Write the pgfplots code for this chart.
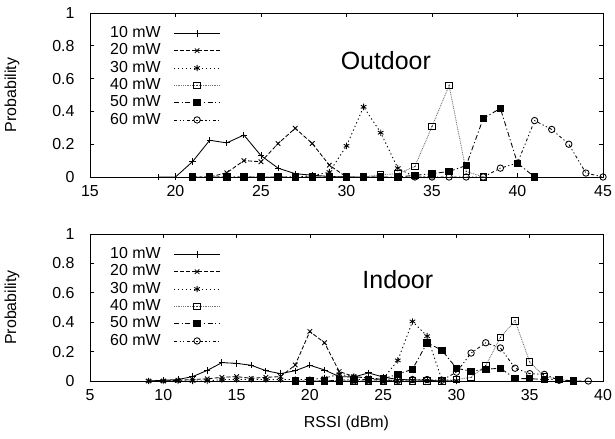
\documentclass[border=0pt]{standalone}
\usepackage{fontspec}
\setmainfont{Liberation Sans}
\usepackage{pgfplots}
\pgfplotsset{compat=1.18}

\newcommand{\gpfont}{\fontsize{16}{18}\selectfont}

% open square with a dot in the middle (gnuplot pt 4 look)
\pgfdeclareplotmark{sqdot}{%
  \pgfpathrectangle{\pgfqpoint{-\pgfplotmarksize}{-\pgfplotmarksize}}{\pgfqpoint{2\pgfplotmarksize}{2\pgfplotmarksize}}%
  \pgfusepathqstroke
  \pgfpathcircle{\pgfpointorigin}{0.6bp}\pgfusepathqfill}

\pgfplotscreateplotcyclelist{gp}{
  {black, solid, mark=+, mark options={solid}},
  {black, dash pattern=on 4bp off 2bp, mark=x, mark options={solid}},
  {black, dash pattern=on 1.3bp off 2.7bp, mark=asterisk, mark options={solid}},
  {black!55, dash pattern=on 0.9bp off 0.9bp, mark=sqdot, mark options={solid,black}},
  {black, dash pattern=on 5bp off 2.5bp on 1.2bp off 2.5bp, mark=square*, mark options={solid}},
  {black, dash pattern=on 3bp off 2.5bp on 1.2bp off 2.5bp on 1.2bp off 2.5bp, mark=o, mark options={solid}},
}

\pgfplotsset{
  gpaxis/.style={
    scale only axis,
    width=513bp,
    ymin=0, ymax=1,
    ytick={0,0.2,...,1},
    tick align=inside,
    xtick pos=both, ytick pos=both,
    major tick length=4bp,
    axis line style={line width=0.8bp},
    every tick/.style={black, line width=0.6bp},
    /pgf/number format/assume math mode=true,
    tick label style={font=\gpfont},
    label style={font=\gpfont},
    yticklabel style={xshift=-12bp},
    xticklabel style={yshift=-5bp},
    every axis y label/.style={at={(axis description cs:-0.152,0.5)}, rotate=90, anchor=center, font=\gpfont},
    ylabel={Probability},
    cycle list name=gp,
    every axis plot/.append style={line width=0.85bp, mark size=3.2bp},
    legend image code/.code={\draw[mark repeat=2,mark phase=2,##1] plot coordinates {(0bp,0bp)(23bp,0bp)(46bp,0bp)};},
    legend style={draw=none, fill=none, at={(0,1)}, anchor=north west, xshift=17bp, yshift=-12bp,
      legend cell align=right, font=\gpfont,
      nodes={inner sep=0pt, text height=10.5bp, text depth=2bp}, row sep=4.8bp, column sep=13bp},
    legend plot pos=right,
  }
}

\begin{document}
\begin{tikzpicture}
\useasboundingbox (0,0) rectangle (615bp,439bp);

% Outdoor
\begin{axis}[gpaxis, height=164bp, at={(90bp,262bp)}, anchor=south west,
  xmin=15, xmax=45, xtick={15,20,...,45}]
\addplot coordinates {(19,0)(20,0)(21,0.094)(22,0.224)(23,0.208)(24,0.256)(25,0.13)(26,0.054)(27,0.02)(28,0.011)(29,0.003)(30,0)};
\addplot coordinates {(21,0)(22,0)(23,0.026)(24,0.1)(25,0.093)(26,0.204)(27,0.297)(28,0.204)(29,0.072)(30,0)(31,0)(32,0)};
\addplot coordinates {(22,0)(23,0)(24,0)(25,0)(26,0)(27,0)(28,0.008)(29,0.03)(30,0.19)(31,0.428)(32,0.27)(33,0.054)(34,0)(35,0)};
\addplot coordinates {(29,0)(30,0)(31,0)(32,0.014)(33,0.02)(34,0.064)(35,0.308)(36,0.558)(37,0.034)(38,0)};
\addplot coordinates {(21,0)(22,0)(23,0)(24,0)(25,0)(26,0)(27,0)(28,0)(29,0)(30,0)(31,0)(32,0)(33,0)(34,0.01)(35,0.02)(36,0.034)(37,0.07)(38,0.358)(39,0.418)(40,0.084)(41,0)};
\addplot coordinates {(34,0)(35,0)(36,0)(37,0)(38,0)(39,0.054)(40,0.085)(41,0.344)(42,0.29)(43,0.2)(44,0.024)(45,0)};
\legend{10 mW,20 mW,30 mW,40 mW,50 mW,60 mW}
\node[font=\fontsize{25}{28}\selectfont] at (axis cs:32.3,0.71) {Outdoor};
\end{axis}

% Indoor
\begin{axis}[gpaxis, height=147bp, at={(90bp,58bp)}, anchor=south west,
  xmin=5, xmax=40, xtick={5,10,...,40},
  xlabel={RSSI (dBm)},
  every axis x label/.style={at={(axis description cs:0.5,0)}, yshift=-42bp, anchor=center, font=\gpfont}]
\addplot coordinates {(9,0)(10,0.005)(11,0.01)(12,0.03)(13,0.072)(14,0.125)(15,0.12)(16,0.107)(17,0.07)(18,0.05)(19,0.07)(20,0.107)(21,0.075)(22,0.03)(23,0.027)(24,0.055)(25,0.027)(26,0.01)(27,0.008)(28,0.005)(29,0)(30,0)};
\addplot coordinates {(9,0)(10,0)(11,0.005)(12,0.01)(13,0.015)(14,0.025)(15,0.03)(16,0.018)(17,0.025)(18,0.03)(19,0.109)(20,0.337)(21,0.26)(22,0.065)(23,0.03)(24,0.02)(25,0.01)(26,0)(27,0)(28,0)};
\addplot coordinates {(9,0)(10,0)(11,0)(12,0)(13,0)(14,0.01)(15,0.01)(16,0.01)(17,0.01)(18,0.01)(19,0.01)(20,0.01)(21,0.02)(22,0.045)(23,0.03)(24,0.02)(25,0.015)(26,0.14)(27,0.405)(28,0.305)(29,0.01)(30,0)};
\addplot coordinates {(19,0)(20,0)(21,0)(22,0)(23,0)(24,0)(25,0)(26,0)(27,0)(28,0)(29,0)(30,0.01)(31,0.025)(32,0.105)(33,0.296)(34,0.41)(35,0.13)(36,0.03)(37,0.01)(38,0)};
\addplot coordinates {(19,0)(20,0)(21,0)(22,0.005)(23,0.01)(24,0.01)(25,0.015)(26,0.046)(27,0.08)(28,0.26)(29,0.21)(30,0.087)(31,0.066)(32,0.08)(33,0.087)(34,0.016)(35,0.016)(36,0.01)(37,0.01)(38,0)};
\addplot coordinates {(20,0)(21,0)(22,0)(23,0)(24,0)(25,0)(26,0.005)(27,0.01)(28,0.01)(29,0.005)(30,0.06)(31,0.19)(32,0.26)(33,0.225)(34,0.087)(35,0.05)(36,0.045)(37,0.005)(38,0)(39,0)};
\legend{10 mW,20 mW,30 mW,40 mW,50 mW,60 mW}
\node[font=\fontsize{25}{28}\selectfont] at (axis cs:26,0.69) {Indoor};
\end{axis}
\end{tikzpicture}
\end{document}
